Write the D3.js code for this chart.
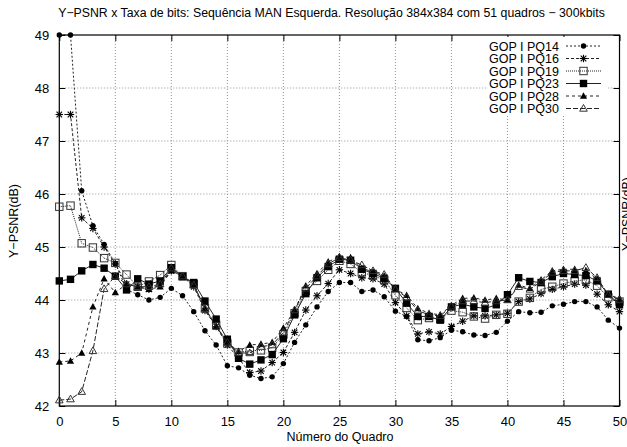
<!DOCTYPE html>
<html>
<head>
<meta charset="utf-8">
<script src="https://cdn.jsdelivr.net/npm/d3@7"></script>
<style>
  body { margin: 0; background: #fff; }
  svg { font-family: "Liberation Sans", Arial, sans-serif; }
</style>
</head>
<body>
<svg id="chart" width="627" height="447"></svg>
<script>
// frame numbers 0..50
const frames = d3.range(0, 51);

const pq14 = [49, 49, 46.06, 45.4, 45.05, 44.69, 44.2, 44.1, 44.0, 44.05, 44.22, 44.08, 43.78, 43.42, 43.15, 42.76, 42.72, 42.58, 42.52, 42.55, 42.8, 43.2, 43.53, 43.87, 44.16, 44.33, 44.33, 44.16, 44.19, 44.06, 43.79, 43.69, 43.25, 43.23, 43.29, 43.43, 43.4, 43.34, 43.33, 43.39, 43.6, 43.78, 43.76, 43.77, 43.89, 43.92, 43.97, 43.97, 43.87, 43.62, 43.47];
const pq16 = [47.5, 47.5, 45.55, 45.35, 45.0, 44.68, 44.3, 44.25, 44.2, 44.3, 44.55, 44.45, 44.25, 43.8, 43.5, 43.15, 42.9, 42.63, 42.66, 42.82, 43.01, 43.39, 43.81, 44.08, 44.31, 44.57, 44.5, 44.42, 44.4, 44.3, 43.95, 43.7, 43.36, 43.4, 43.36, 43.5, 43.6, 43.7, 43.7, 43.72, 43.75, 43.97, 44.02, 44.12, 44.2, 44.25, 44.3, 44.28, 44.11, 43.91, 43.78];
const pq19 = [45.76, 45.78, 45.07, 44.99, 44.79, 44.7, 44.48, 44.25, 44.35, 44.47, 44.66, 44.45, 44.3, 43.84, 43.53, 43.18, 43.01, 43.04, 43.05, 43.1, 43.35, 43.75, 44.17, 44.36, 44.57, 44.74, 44.68, 44.52, 44.46, 44.38, 44.09, 43.85, 43.62, 43.66, 43.64, 43.8, 43.77, 43.69, 43.65, 43.72, 43.74, 43.97, 44.04, 44.2, 44.25, 44.31, 44.36, 44.38, 44.27, 44.05, 43.97];
const pq23 = [44.36, 44.39, 44.55, 44.67, 44.6, 44.45, 44.19, 44.4, 44.3, 44.36, 44.61, 44.44, 44.33, 43.98, 43.64, 43.26, 42.9, 42.79, 42.87, 42.97, 43.27, 43.72, 44.12, 44.42, 44.63, 44.77, 44.75, 44.58, 44.5, 44.41, 44.22, 43.94, 43.69, 43.69, 43.62, 43.87, 43.92, 43.87, 43.84, 43.91, 44.1, 44.42, 44.35, 44.33, 44.44, 44.5, 44.48, 44.46, 44.36, 44.11, 43.91];
const pq28 = [42.83, 42.85, 43.0, 43.87, 44.4, 44.14, 44.3, 44.25, 44.2, 44.25, 44.55, 44.45, 44.28, 43.84, 43.5, 43.2, 43.03, 43.15, 43.17, 43.2, 43.47, 43.81, 44.27, 44.5, 44.72, 44.82, 44.8, 44.6, 44.53, 44.45, 44.2, 44.09, 43.84, 43.75, 43.72, 43.9, 44.03, 44.04, 44.0, 44.03, 44.0, 44.28, 44.22, 44.38, 44.55, 44.58, 44.58, 44.55, 44.4, 44.1, 44.03];
const pq30 = [42.11, 42.13, 42.27, 43.04, 44.21, 44.45, 44.3, 44.25, 44.25, 44.3, 44.6, 44.45, 44.28, 43.84, 43.5, 43.2, 43.0, 43.0, 43.12, 43.15, 43.39, 43.81, 44.22, 44.45, 44.68, 44.8, 44.75, 44.66, 44.55, 44.48, 44.2, 44.05, 43.8, 43.72, 43.7, 43.88, 43.98, 43.98, 43.95, 43.98, 44.0, 44.25, 44.2, 44.35, 44.52, 44.55, 44.55, 44.61, 44.42, 44.1, 44.0];

const seriesNames = ["GOP I PQ14", "GOP I PQ16", "GOP I PQ19", "GOP I PQ23", "GOP I PQ28", "GOP I PQ30"];
const seriesValues = [pq14, pq16, pq19, pq23, pq28, pq30];

const xTicks = d3.range(0, 51, 5);
const yTicks = d3.range(42, 50, 1);

const title = "Y\u2212PSNR x Taxa de bits: Sequência MAN Esquerda. Resolução 384x384 com 51 quadros \u2212 300kbits";
const xLabel = "Número do Quadro";
const yLabel = "Y\u2212PSNR(dB)";

// line + marker style for each series
const styles = [
  { dash: "2,2", marker: "circle" },
  { dash: "3,2", marker: "star" },
  { dash: "1,1", marker: "square-open" },
  { dash: null, marker: "square" },
  { dash: "3,3", marker: "triangle" },
  { dash: "5,2", marker: "triangle-open" }
];

const svg = d3.select("#chart");
const pLeft = 59.3, pRight = 619.5, pTop = 35, pBottom = 406;

const x = d3.scaleLinear().domain([0, 50]).range([pLeft, pRight]);
const y = d3.scaleLinear().domain([42, 49]).range([pBottom, pTop]);

// grid
const grid = svg.append("g").attr("stroke", "#777").attr("stroke-width", 0.8).attr("stroke-dasharray", "1,2");
grid.selectAll(".gx").data(xTicks.slice(1, -1)).enter().append("line")
  .attr("x1", d => x(d)).attr("x2", d => x(d)).attr("y1", pTop).attr("y2", pBottom);
grid.selectAll(".gy").data(yTicks.slice(1, -1)).enter().append("line")
  .attr("x1", pLeft).attr("x2", pRight).attr("y1", d => y(d)).attr("y2", d => y(d));

// axes with inward ticks on all four sides
const axB = svg.append("g").attr("transform", `translate(0,${pBottom})`)
  .call(d3.axisBottom(x).tickValues(xTicks).tickFormat(d3.format("d")).tickSizeInner(-6).tickSizeOuter(0).tickPadding(11));
const axT = svg.append("g").attr("transform", `translate(0,${pTop})`)
  .call(d3.axisTop(x).tickValues(xTicks).tickSizeInner(-6).tickSizeOuter(0).tickFormat(""));
const axL = svg.append("g").attr("transform", `translate(${pLeft},0)`)
  .call(d3.axisLeft(y).tickValues(yTicks).tickFormat(d3.format("d")).tickSizeInner(-6).tickSizeOuter(0).tickPadding(10));
const axR = svg.append("g").attr("transform", `translate(${pRight},0)`)
  .call(d3.axisRight(y).tickValues(yTicks).tickSizeInner(-6).tickSizeOuter(0).tickFormat(""));
[axB, axT, axL, axR].forEach(a => {
  a.select(".domain").remove();
  a.selectAll("line").attr("stroke", "#000");
  a.selectAll("text").attr("font-size", 13).attr("fill", "#000").style("font-family", "Liberation Sans, Arial, sans-serif");
});

svg.append("rect").attr("x", pLeft).attr("y", pTop).attr("width", pRight - pLeft).attr("height", pBottom - pTop)
  .attr("fill", "none").attr("stroke", "#000").attr("stroke-width", 1.2);

function drawMarker(g, type, cx, cy) {
  const s = 3.7;
  if (type === "circle") {
    g.append("circle").attr("cx", cx).attr("cy", cy).attr("r", 2.7).attr("fill", "#000");
  } else if (type === "star") {
    const p = g.append("g").attr("stroke", "#000").attr("stroke-width", 1.1);
    [[-s, 0, s, 0], [0, -s, 0, s], [-s * 0.75, -s * 0.75, s * 0.75, s * 0.75], [-s * 0.75, s * 0.75, s * 0.75, -s * 0.75]].forEach(l =>
      p.append("line").attr("x1", cx + l[0]).attr("y1", cy + l[1]).attr("x2", cx + l[2]).attr("y2", cy + l[3]));
  } else if (type === "square-open") {
    g.append("rect").attr("x", cx - s).attr("y", cy - s).attr("width", 2 * s).attr("height", 2 * s)
      .attr("fill", "none").attr("stroke", "#333").attr("stroke-width", 1);
  } else if (type === "square") {
    g.append("rect").attr("x", cx - s).attr("y", cy - s).attr("width", 2 * s).attr("height", 2 * s).attr("fill", "#000");
  } else if (type === "triangle") {
    g.append("path").attr("d", `M${cx},${cy - 3.8}L${cx + 3.6},${cy + 2.7}L${cx - 3.6},${cy + 2.7}Z`).attr("fill", "#000");
  } else if (type === "triangle-open") {
    g.append("path").attr("d", `M${cx},${cy - 4}L${cx + 3.8},${cy + 2.7}L${cx - 3.8},${cy + 2.7}Z`)
      .attr("fill", "none").attr("stroke", "#333").attr("stroke-width", 1);
  }
}

const line = d3.line().x((d, i) => x(frames[i])).y(d => y(d));

seriesValues.forEach((vals, k) => {
  const st = styles[k];
  const g = svg.append("g");
  g.append("path").datum(vals).attr("d", line)
    .attr("fill", "none").attr("stroke", "#222").attr("stroke-width", 1)
    .attr("stroke-dasharray", st.dash);
  vals.forEach((v, i) => drawMarker(g, st.marker, x(frames[i]), y(v)));
});

// legend
const lg = svg.append("g");
lg.append("rect").attr("x", 488).attr("y", 37).attr("width", 120).attr("height", 78).attr("fill", "#fff");
seriesNames.forEach((name, k) => {
  const ly = 46 + k * 12.5;
  lg.append("text").attr("x", 559).attr("y", ly + 4.5).attr("text-anchor", "end")
    .attr("font-size", 12.5).text(name);
  lg.append("line").attr("x1", 566).attr("x2", 601).attr("y1", ly).attr("y2", ly)
    .attr("stroke", "#222").attr("stroke-width", 1).attr("stroke-dasharray", styles[k].dash);
  drawMarker(lg, styles[k].marker, 583.5, ly);
});

// titles
svg.append("text").attr("x", 331.5).attr("y", 17).attr("text-anchor", "middle")
  .attr("font-size", 12.3).text(title);
svg.append("text").attr("x", 340).attr("y", 441).attr("text-anchor", "middle")
  .attr("font-size", 12.5).text(xLabel);
svg.append("text").attr("transform", "translate(18,221) rotate(-90)").attr("text-anchor", "middle")
  .attr("font-size", 12.5).text(yLabel);
// right-hand label, mostly cut off by the page edge as in the original
svg.append("text").attr("transform", "translate(631,214) rotate(-90)").attr("text-anchor", "middle")
  .attr("font-size", 12.5).text(yLabel);
</script>
</body>
</html>
